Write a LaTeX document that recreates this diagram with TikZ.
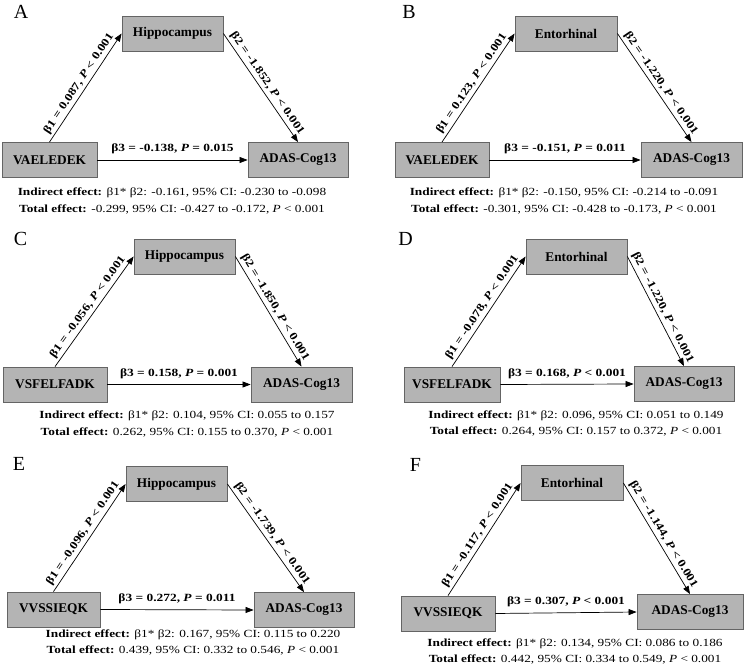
\documentclass[tikz,border=0pt]{standalone}
\usepackage{fontspec}
\setmainfont{Liberation Serif}
\newfontfamily\widefont[FakeStretch=1.22]{Liberation Serif}
\usetikzlibrary{arrows.meta}
\definecolor{cBox}{RGB}{180,180,180}
\definecolor{cEdge}{RGB}{100,100,100}

\begin{document}
\begin{tikzpicture}[
  x=1pt, y=-1pt,
  box/.style  = {draw=cEdge, fill=cBox, line width=0.8pt, minimum height=35pt,
                 inner sep=2pt, font=\fontsize{13.3}{15}\selectfont\bfseries},
  link/.style = {-{Triangle[length=8pt,width=6pt]}, line width=0.7pt},
  coef/.style = {font=\widefont\fontsize{11}{12}\selectfont\bfseries, inner sep=2.5pt},
  tag/.style  = {font=\fontsize{20}{22}\selectfont},
  eff/.style  = {font=\widefont\fontsize{10.9}{16.5}\selectfont, align=center}
]
\useasboundingbox (0,0) rectangle (744,668);

% ------------------------------------------------------------- pannello A --
\node[tag] (tagA) at (21,12) {A};
\node[box, minimum width=101pt] (medA) at (172.5,33.5) {Hippocampus};
\node[box, minimum width=95pt]  (srcA) at (49.5,160)   {VAELEDEK};
\node[box, minimum width=100pt] (outA) at (298,160)    {ADAS-Cog13};
\draw[link] (srcA.north) -- (medA.west)
  node[coef, midway, sloped, above] {β1 = 0.087, \textit{P} < 0.001};
\draw[link] (medA.east) -- (outA.north)
  node[coef, midway, sloped, above] {β2 = -1.852, \textit{P} < 0.001};
\draw[link] (srcA.east) -- (outA.west)
  node[coef, midway, above, yshift=3pt] {β3 = -0.138, \textit{P} = 0.015};
\node[eff] (effA) at (172,201) {\textbf{Indirect effect:} β1* β2: -0.161, 95\% CI: -0.230 to -0.098\\
  \textbf{Total effect:} -0.299, 95\% CI: -0.427 to -0.172, \textit{P} < 0.001};

% ------------------------------------------------------------- pannello B --
\node[tag] (tagB) at (409,12) {B};
\node[box, minimum width=102pt] (medB) at (566,33.5) {Entorhinal};
\node[box, minimum width=94pt]  (srcB) at (442,160)  {VAELEDEK};
\node[box, minimum width=101pt] (outB) at (691.5,160) {ADAS-Cog13};
\draw[link] (srcB.north) -- (medB.west)
  node[coef, midway, sloped, above] {β1 = 0.123, \textit{P} < 0.001};
\draw[link] (medB.east) -- (outB.north)
  node[coef, midway, sloped, above] {β2 = -1.220, \textit{P} < 0.001};
\draw[link] (srcB.east) -- (outB.west)
  node[coef, midway, above, yshift=3pt] {β3 = -0.151, \textit{P} = 0.011};
\node[eff] (effB) at (564,201) {\textbf{Indirect effect:} β1* β2: -0.150, 95\% CI: -0.214 to -0.091\\
  \textbf{Total effect:} -0.301, 95\% CI: -0.428 to -0.173, \textit{P} < 0.001};

% ------------------------------------------------------------- pannello C --
\node[tag] (tagC) at (20.5,238.5) {C};
\node[box, minimum width=101pt] (medC) at (184.5,256.5) {Hippocampus};
\node[box, minimum width=104pt] (srcC) at (55,384.5)    {VSFELFADK};
\node[box, minimum width=101pt] (outC) at (301.5,384.5) {ADAS-Cog13};
\draw[link] (srcC.north) -- (medC.west)
  node[coef, midway, sloped, above] {β1 = -0.056, \textit{P} < 0.001};
\draw[link] (medC.east) -- (outC.north)
  node[coef, midway, sloped, above] {β2 = -1.850, \textit{P} < 0.001};
\draw[link] (srcC.east) -- (outC.west)
  node[coef, midway, above, yshift=3pt] {β3 = 0.158, \textit{P} = 0.001};
\node[eff] (effC) at (187,424) {\textbf{Indirect effect:} β1* β2: 0.104, 95\% CI: 0.055 to 0.157\\
  \textbf{Total effect:} 0.262, 95\% CI: 0.155 to 0.370, \textit{P} < 0.001};

% ------------------------------------------------------------- pannello D --
\node[tag] (tagD) at (405.5,238.5) {D};
\node[box, minimum width=101pt] (medD) at (576.5,256.5) {Entorhinal};
\node[box, minimum width=96pt]  (srcD) at (452,384.5)   {VSFELFADK};
\node[box, minimum width=100pt] (outD) at (684,384)     {ADAS-Cog13};
\draw[link] (srcD.north) -- (medD.west)
  node[coef, midway, sloped, above] {β1 = -0.078, \textit{P} < 0.001};
\draw[link] (medD.east) -- (outD.north)
  node[coef, midway, sloped, above] {β2 = -1.220, \textit{P} < 0.001};
\draw[link] (srcD.east) -- (outD.west)
  node[coef, midway, above, yshift=3pt] {β3 = 0.168, \textit{P} < 0.001};
\node[eff] (effD) at (576,423.5) {\textbf{Indirect effect:} β1* β2: 0.096, 95\% CI: 0.051 to 0.149\\
  \textbf{Total effect:} 0.264, 95\% CI: 0.157 to 0.372, \textit{P} < 0.001};

% ------------------------------------------------------------- pannello E --
\node[tag] (tagE) at (19,463.5) {E};
\node[box, minimum width=101pt] (medE) at (176.5,484) {Hippocampus};
\node[box, minimum width=93pt]  (srcE) at (53.5,609.5) {VVSSIEQK};
\node[box, minimum width=100pt] (outE) at (304,610)   {ADAS-Cog13};
\draw[link] (srcE.north) -- (medE.west)
  node[coef, midway, sloped, above] {β1 = -0.096, \textit{P} < 0.001};
\draw[link] (medE.east) -- (outE.north)
  node[coef, midway, sloped, above] {β2 = -1.739, \textit{P} < 0.001};
\draw[link] (srcE.east) -- (outE.west)
  node[coef, midway, above, yshift=3pt] {β3 = 0.272, \textit{P} = 0.011};
\node[eff] (effE) at (193,642.5) {\textbf{Indirect effect:} β1* β2: 0.167, 95\% CI: 0.115 to 0.220\\
  \textbf{Total effect:} 0.439, 95\% CI: 0.332 to 0.546, \textit{P} < 0.001};

% ------------------------------------------------------------- pannello F --
\node[tag] (tagF) at (415.5,464.5) {F};
\node[box, minimum width=102pt] (medF) at (572,483)   {Entorhinal};
\node[box, minimum width=94pt]  (srcF) at (448,613.5) {VVSSIEQK};
\node[box, minimum width=106pt] (outF) at (690,612)   {ADAS-Cog13};
\draw[link] (srcF.north) -- (medF.west)
  node[coef, midway, sloped, above] {β1 = -0.117, \textit{P} < 0.001};
\draw[link] (medF.east) -- (outF.north)
  node[coef, midway, sloped, above] {β2 = -1.144, \textit{P} < 0.001};
\draw[link] (srcF.east) -- (outF.west)
  node[coef, midway, above, yshift=3pt] {β3 = 0.307, \textit{P} < 0.001};
\node[eff] (effF) at (575,651.5) {\textbf{Indirect effect:} β1* β2: 0.134, 95\% CI: 0.086 to 0.186\\
  \textbf{Total effect:} 0.442, 95\% CI: 0.334 to 0.549, \textit{P} < 0.001};

\end{tikzpicture}
\end{document}
